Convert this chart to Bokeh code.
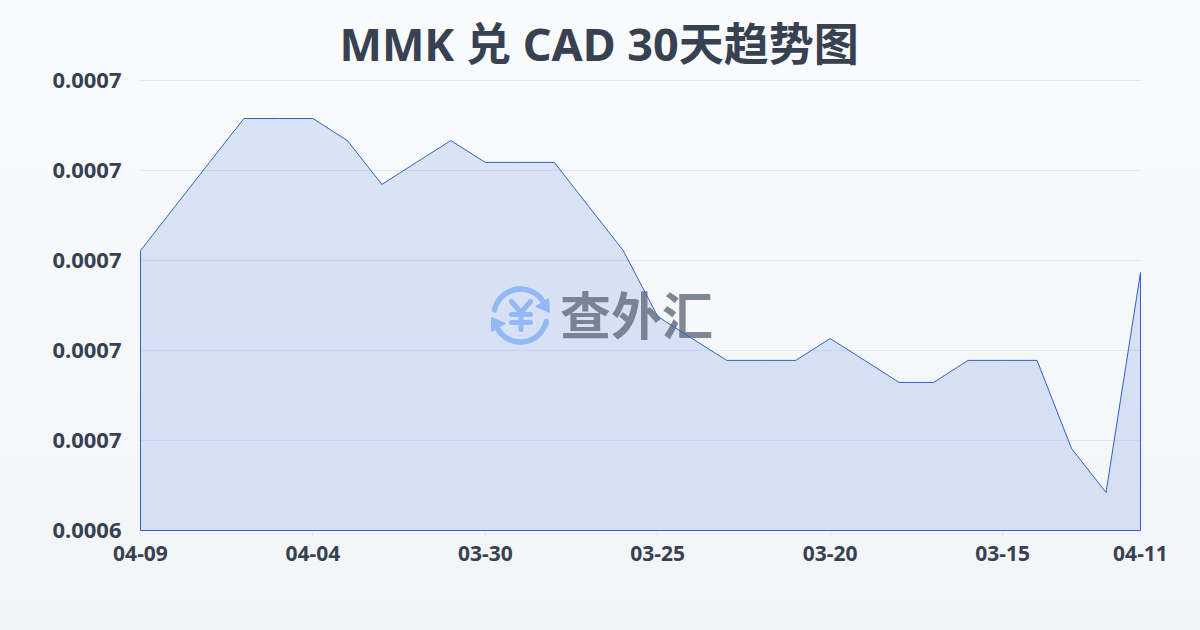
from bokeh.plotting import figure
from bokeh.embed import file_html
from bokeh.resources import INLINE
from bokeh.models import Range1d, FixedTicker
from bokeh.core.properties import value
import math

# --- data -------------------------------------------------------------
dates = ["04-09","04-08","04-07","04-06","04-05","04-04","04-03","04-02","04-01","03-31",
         "03-30","03-29","03-28","03-27","03-26","03-25","03-24","03-23","03-22","03-21",
         "03-20","03-19","03-18","03-17","03-16","03-15","03-14","03-13","03-12","04-11"]
rates = [0.00066044,0.00066240,0.00066436,0.00066631,0.00066631,0.00066631,0.00066533,0.00066338,
         0.00066436,0.00066533,0.00066436,0.00066436,0.00066436,0.00066240,0.00066044,0.00065751,
         0.00065653,0.00065556,0.00065556,0.00065556,0.00065653,0.00065556,0.00065458,0.00065458,
         0.00065556,0.00065556,0.00065556,0.00065164,0.00064969,0.00065947]
y_ticks = [0.000648,0.000652,0.000656,0.000660,0.000664,0.000668]
y_labels = ["0.0006","0.0007","0.0007","0.0007","0.0007","0.0007"]
x_tick_idx = [0,5,10,15,20,25,29]
title_text = "MMK 兑 CAD 30天趋势图"
brand = "查外汇"

INK = "#374151"
FONT = "Noto Sans, Noto Sans CJK SC"
n = len(rates)
xs = list(range(n))
base = y_ticks[0]

# the frame is one pixel larger than the axis span on each side, so the outline is not clipped
PAD_X = (n - 1) / 1000
PAD_Y = (y_ticks[-1] - y_ticks[0]) / 450
p = figure(width=1200, height=630, output_backend="svg", toolbar_location=None,
           x_range=Range1d(-PAD_X, n - 1 + PAD_X),
           y_range=Range1d(y_ticks[0] - PAD_Y, y_ticks[-1] + PAD_Y),
           min_border_left=139, min_border_right=59, min_border_top=79, min_border_bottom=99,
           background_fill_color=None, border_fill_color=None, outline_line_color=None)

# title: left aligned with an offset, because the picture centres it on the page, not the frame
p.title.text = title_text
p.title.align = "left"
p.title.offset = 200
p.title.standoff = 11
p.title.text_font = FONT
p.title.text_font_size = "45px"
p.title.text_font_style = "bold"
p.title.text_color = INK

# grid
p.xgrid.visible = False
p.ygrid.ticker = FixedTicker(ticks=y_ticks)
p.ygrid.grid_line_color = "#e2e8f0"
p.ygrid.grid_line_width = 1

# axes
p.yaxis.ticker = FixedTicker(ticks=y_ticks)
p.yaxis.major_label_overrides = dict(zip(y_ticks, y_labels))
p.yaxis.axis_line_color = None
p.yaxis.major_tick_line_color = None
p.yaxis.minor_tick_line_color = None
p.yaxis.major_label_standoff = 12
p.yaxis.major_label_text_font = FONT
p.yaxis.major_label_text_font_size = "22px"
p.yaxis.major_label_text_font_style = "bold"
p.yaxis.major_label_text_color = INK

p.xaxis.ticker = FixedTicker(ticks=x_tick_idx)
p.xaxis.major_label_overrides = {i: dates[i] for i in x_tick_idx}
p.xaxis.axis_line_color = None
p.xaxis.major_tick_line_color = "#e2e8f0"
p.xaxis.major_tick_out = 5
p.xaxis.major_tick_in = 0
p.xaxis.minor_tick_line_color = None
p.xaxis.major_label_standoff = 9
p.xaxis.major_label_text_font = FONT
p.xaxis.major_label_text_font_size = "21px"
p.xaxis.major_label_text_font_style = "bold"
p.xaxis.major_label_text_color = INK

# area fill
area_x = xs + [n - 1, 0]
area_y = rates + [base, base]
p.patch(area_x, area_y, fill_color="#2a62e0", fill_alpha=0.15, line_color=None)

# watermark, in pixel space of the picture
p.extra_x_ranges["px"] = Range1d(139, 1141)
p.extra_y_ranges["px"] = Range1d(531, 79)
BLUE = "#93b8f5"
PX = dict(x_range_name="px", y_range_name="px")
p.arc([520], [315], radius=26.5, radius_units="screen", start_angle=math.radians(30), end_angle=math.radians(168),
      direction="anticlock", line_color=BLUE, line_width=5.5, line_cap="round", **PX)
p.arc([520], [315], radius=26.5, radius_units="screen", start_angle=math.radians(210), end_angle=math.radians(347),
      direction="anticlock", line_color=BLUE, line_width=5.5, line_cap="round", **PX)
p.patches([[548, 549, 535], [491, 491, 505]], [[298, 312, 306], [317, 331, 323]],
          fill_color=BLUE, line_color=BLUE, line_width=1, **PX)
p.multi_line([[511, 520.5, 530], [520.5, 520.5], [511, 530], [511, 530]],
             [[301, 312, 301], [312, 329], [314, 314], [322, 322]],
             line_color=BLUE, line_width=5, line_cap="round", line_join="round", **PX)
p.text([636], [312], text=[brand], text_align="center", text_baseline="middle", text_color="#6b7280",
       text_alpha=0.85, text_font=value("Noto Sans CJK SC"), text_font_size="51px", text_font_style="bold", **PX)

# area outline on top of the watermark
p.patch(area_x, area_y, fill_color=None, line_color="#2f62c8", line_width=1)

template = """{% block postamble %}<style>html{height:100%;background:linear-gradient(180deg,#f8fafc 0%,#f8fafc 10%,#f2f4f7 100%);}body{background:transparent;}</style>{% endblock %}
"""
open("out.html", "w").write(file_html(p, INLINE, template=template))
